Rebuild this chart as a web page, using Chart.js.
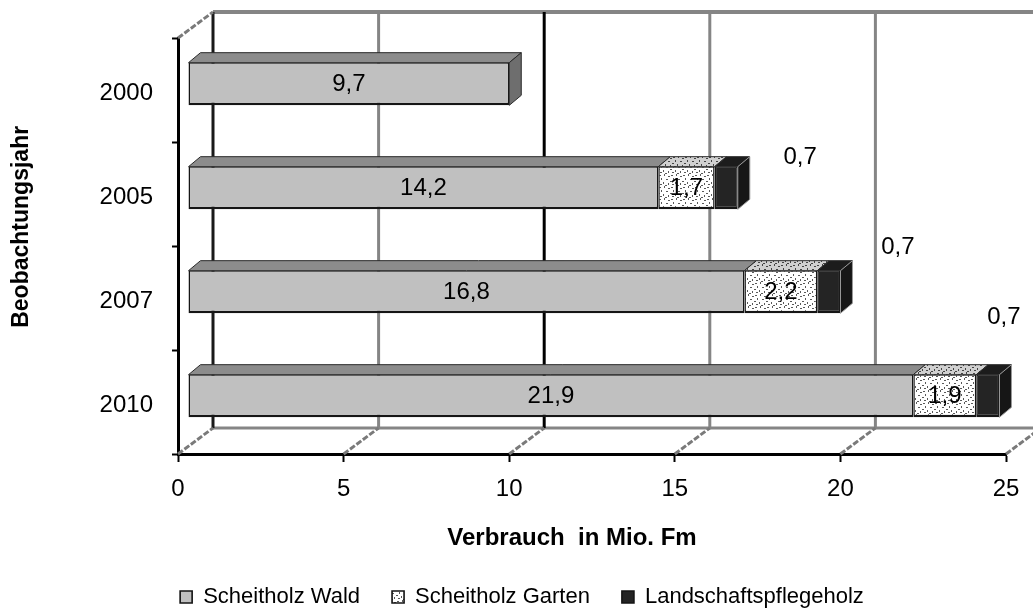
<!DOCTYPE html>
<html><head><meta charset="utf-8">
<script src="https://cdn.jsdelivr.net/npm/chart.js@4.4.1/dist/chart.umd.min.js"></script>
<style>html,body{margin:0;padding:0;background:#fff;overflow:hidden}#wrap{width:1033px;height:610px;position:relative}</style>
</head><body><div id="wrap"><canvas id="c" width="1033" height="610"></canvas></div>
<script>
// ---- data ----
const categories = ['2000', '2005', '2007', '2010'];
const seriesNames = ['Scheitholz Wald', 'Scheitholz Garten', 'Landschaftspflegeholz'];
const scheitholzWald = [9.7, 14.2, 16.8, 21.9];
const scheitholzGarten = [null, 1.7, 2.2, 1.9];
const landschaftspflegeholz = [null, 0.7, 0.7, 0.7];
const xTicks = [0, 5, 10, 15, 20, 25];
const xAxisTitle = 'Verbrauch  in Mio. Fm';
const yAxisTitle = 'Beobachtungsjahr';

// ---- styling ----
const FONT = "'Liberation Sans', Arial, Helvetica, sans-serif";
const FDX = 10, FDY = -6;      // bar front-face offset from the front plane
const BDX = 12, BDY = 10;      // bar depth
const WDX = 35, WDY = -26;     // back wall offset from the front plane

function makeDots(bg, dot) {
  const c = document.createElement('canvas');
  c.width = 12; c.height = 12;
  const g = c.getContext('2d');
  g.fillStyle = bg; g.fillRect(0, 0, 12, 12);
  g.fillStyle = dot;
  [[1,1,2,1],[6,0,1,2],[10,2,2,1],[3,4,1,2],[8,5,2,1],[0,7,2,1],[5,8,1,2],[10,9,1,2],[2,10,2,1],[7,11,2,1]]
    .forEach(r => g.fillRect(r[0], r[1], r[2], r[3]));
  return g.createPattern(c, 'repeat');
}
const ctx0 = document.getElementById('c').getContext('2d');
const gartenFront = makeDots('#ffffff', '#5a5a5a');
const gartenTop = makeDots('#d0d0d0', '#444444');

const frontColors = ['#c0c0c0', gartenFront, '#242424'];
const topColors = ['#8c8c8c', gartenTop, '#1c1c1c'];
const sideColors = ['#6e6e6e', '#bdbdbd', '#161616'];
const fmt = v => v.toFixed(1).replace('.', ',');
const landLabelShift = [[0, 0], [74, -31], [69, -45], [16, -79]];

const threeD = {
  id: 'threeD',
  beforeDatasetsDraw(chart) {
    const ctx = chart.ctx, xs = chart.scales.x, ca = chart.chartArea;
    ctx.save();
    ctx.lineCap = 'butt';
    // back wall top edge and back floor edge
    ctx.strokeStyle = '#858585'; ctx.lineWidth = 4;
    ctx.beginPath(); ctx.moveTo(ca.left + WDX, ca.top + WDY); ctx.lineTo(chart.width, ca.top + WDY); ctx.stroke();
    ctx.lineWidth = 3;
    ctx.beginPath(); ctx.moveTo(ca.left + WDX, ca.bottom + WDY); ctx.lineTo(chart.width, ca.bottom + WDY); ctx.stroke();
    // back wall grid lines
    xTicks.forEach(v => {
      const px = xs.getPixelForValue(v) + WDX;
      ctx.strokeStyle = v === 0 ? '#1a1a1a' : (v === 10 ? '#000000' : '#858585');
      ctx.lineWidth = 3;
      ctx.beginPath(); ctx.moveTo(px, ca.top + WDY); ctx.lineTo(px, ca.bottom + WDY); ctx.stroke();
    });
    // floor diagonals
    ctx.strokeStyle = '#7a7a7a'; ctx.lineWidth = 3; ctx.setLineDash([6, 2]);
    xTicks.forEach(v => {
      const px = xs.getPixelForValue(v);
      ctx.beginPath(); ctx.moveTo(px, ca.bottom); ctx.lineTo(px + WDX, ca.bottom + WDY); ctx.stroke();
    });
    // left wall top diagonal
    ctx.beginPath(); ctx.moveTo(ca.left, ca.top); ctx.lineTo(ca.left + WDX, ca.top + WDY); ctx.stroke();
    ctx.setLineDash([]);
    ctx.restore();
    ctx.save();
    ctx.translate(FDX, FDY);
  },
  afterDatasetsDraw(chart) {
    const ctx = chart.ctx;
    ctx.restore();
    ctx.save();
    const rows = chart.data.labels.length;
    for (let i = 0; i < rows; i++) {
      let last = -1;
      chart.data.datasets.forEach((ds, d) => { if (ds.data[i] != null) last = d; });
      chart.data.datasets.forEach((ds, d) => {
        if (ds.data[i] == null) return;
        const el = chart.getDatasetMeta(d).data[i];
        const p = el.getProps(['x', 'y', 'base', 'height'], true);
        const l = Math.min(p.x, p.base) + FDX, r = Math.max(p.x, p.base) + FDX;
        const t = p.y - p.height / 2 + FDY, b = p.y + p.height / 2 + FDY;
        ctx.lineWidth = 1; ctx.strokeStyle = '#2a2a2a';
        ctx.fillStyle = topColors[d];
        ctx.beginPath(); ctx.moveTo(l, t); ctx.lineTo(l + BDX, t - BDY); ctx.lineTo(r + BDX, t - BDY); ctx.lineTo(r, t); ctx.closePath();
        ctx.fill(); ctx.stroke();
        if (d === last) {
          ctx.fillStyle = sideColors[d];
          ctx.beginPath(); ctx.moveTo(r, t); ctx.lineTo(r + BDX, t - BDY); ctx.lineTo(r + BDX, b - BDY); ctx.lineTo(r, b); ctx.closePath();
          ctx.fill(); ctx.strokeStyle = d === 2 ? '#9a9a9a' : '#2a2a2a'; ctx.stroke();
        }
      });
    }
    // value labels
    ctx.font = '24px ' + FONT; ctx.fillStyle = '#000'; ctx.textAlign = 'center'; ctx.textBaseline = 'middle';
    chart.data.datasets.forEach((ds, d) => {
      chart.getDatasetMeta(d).data.forEach((el, i) => {
        const v = ds.data[i];
        if (v == null) return;
        const p = el.getProps(['x', 'y', 'base'], true);
        let cx = (p.x + p.base) / 2 + FDX, cy = p.y + FDY;
        if (d === 2) { cx += landLabelShift[i][0]; cy += landLabelShift[i][1]; }
        ctx.fillText(fmt(v), cx, cy);
      });
    });
    ctx.restore();
  }
};

const seriesValues = [scheitholzWald, scheitholzGarten, landschaftspflegeholz];
const chart = new Chart(ctx0, {
  type: 'bar',
  data: {
    labels: categories,
    datasets: seriesNames.map((n, k) => ({
      label: n,
      data: seriesValues[k],
      backgroundColor: frontColors[k],
      borderColor: '#151515',
      borderWidth: { top: 1, left: 1.5, right: 1.5, bottom: 2.5 },
      borderSkipped: false,
      barPercentage: 0.41,
      categoryPercentage: 1,
      clip: false
    }))
  },
  options: {
    indexAxis: 'y',
    responsive: false,
    animation: false,
    devicePixelRatio: 1,
    layout: { padding: { top: 38, right: 27, bottom: -8, left: 38 } },
    scales: {
      x: {
        type: 'linear', min: 0, max: 25, stacked: true,
        afterBuildTicks: s => { s.ticks = xTicks.map(v => ({ value: v })); },
        afterFit: s => { s.height = 100; },
        grid: { drawOnChartArea: false, drawTicks: true, tickLength: 8, tickColor: '#000', tickWidth: 2 },
        border: { display: true, color: '#000', width: 3 },
        ticks: { font: { family: FONT, size: 24 }, color: '#000', padding: 13, maxRotation: 0 },
        title: { display: true, text: xAxisTitle + '      ', font: { family: FONT, size: 24, weight: 'bold', lineHeight: 1 }, color: '#000', padding: { top: 0, bottom: 4 } }
      },
      y: {
        type: 'category', stacked: true, offset: true,
        afterFit: s => { s.width = 140; },
        grid: { drawOnChartArea: false, drawTicks: true, tickLength: 6, tickColor: '#000', tickWidth: 2, offset: true },
        border: { display: true, color: '#000', width: 3 },
        ticks: { font: { family: FONT, size: 24 }, color: '#000', padding: 19, labelOffset: 3 },
        title: { display: true, text: '      ' + yAxisTitle, font: { family: FONT, size: 23, weight: 'bold', lineHeight: 1.2 }, color: '#000', padding: { top: -30, bottom: 0 } }
      }
    },
    plugins: {
      legend: {
        position: 'bottom',
        labels: { font: { family: FONT, size: 22 }, color: '#000', boxWidth: 12, boxHeight: 12, padding: 32 }
      },
      tooltip: { enabled: false }
    }
  },
  plugins: [threeD]
});
</script></body></html>
